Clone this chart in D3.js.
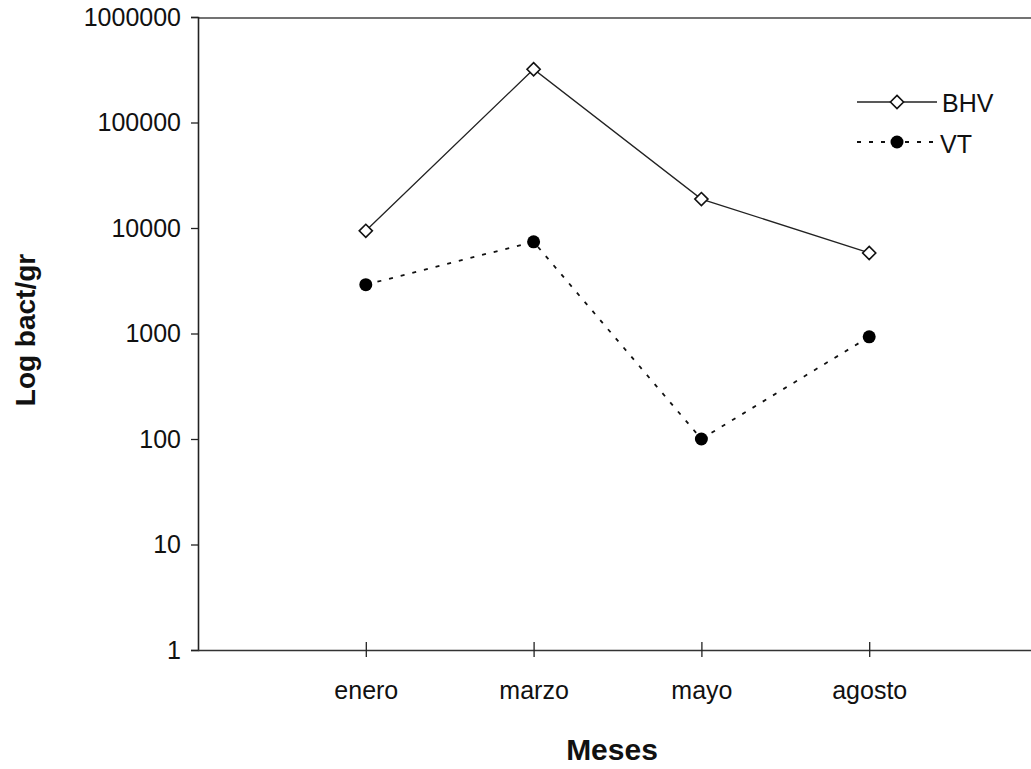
<!DOCTYPE html>
<html>
<head>
<meta charset="utf-8">
<script src="https://cdn.jsdelivr.net/npm/d3@7"></script>
<style>
  html, body { margin: 0; padding: 0; background: #fff; }
  svg text { font-family: "Liberation Sans", Arial, sans-serif; fill: #111; }
</style>
</head>
<body>
<svg id="chart" width="1031" height="769"></svg>
<script>
// Monthly bacterial counts (bact/gr), log scale
const months = ["enero", "marzo", "mayo", "agosto"];
const bhv = [9400, 320000, 18800, 5800];
const vt = [2900, 7400, 100, 930];
const yTicks = [1, 10, 100, 1000, 10000, 100000, 1000000];

const svg = d3.select("#chart");
const plotLeft = 198, plotRight = 1037, plotTop = 17, plotBottom = 650;

const x = d3.scalePoint().domain(months).range([plotLeft, plotRight]).padding(1);
const y = d3.scaleLog().domain([1, 1000000]).range([plotBottom, plotTop]);

// Plot frame (top edge)
svg.append("line").attr("x1", plotLeft).attr("x2", plotRight).attr("y1", plotTop + 1).attr("y2", plotTop + 1)
  .attr("stroke", "#444").attr("stroke-width", 1.5);

// Y axis
const yAxis = svg.append("g").attr("transform", `translate(${plotLeft},0)`)
  .call(d3.axisLeft(y).tickValues(yTicks).tickFormat(d3.format("d")).tickSize(7).tickPadding(10));
yAxis.select(".domain").attr("stroke", "#222").attr("stroke-width", 1.6);
yAxis.selectAll(".tick line").attr("stroke", "#222").attr("stroke-width", 1.3);
yAxis.selectAll(".tick text").attr("font-size", 25).attr("fill", "#111")
  .style("font-family", "'Liberation Sans', Arial, sans-serif");

// X axis with ticks crossing the baseline
const xAxis = svg.append("g").attr("transform", `translate(0,${plotBottom})`)
  .call(d3.axisBottom(x).tickSize(0).tickPadding(31));
xAxis.select(".domain").attr("d", `M${plotLeft},0.5H${plotRight}`).attr("stroke", "#333").attr("stroke-width", 1.5);
xAxis.selectAll(".tick").append("line").attr("y1", -8).attr("y2", 7).attr("stroke", "#222").attr("stroke-width", 1.3);
xAxis.selectAll(".tick text").attr("font-size", 25).attr("fill", "#111")
  .style("font-family", "'Liberation Sans', Arial, sans-serif");

// Series lines
const line = d3.line().x((d, i) => x(months[i])).y(d => y(d));
svg.append("path").datum(bhv).attr("d", line).attr("fill", "none")
  .attr("stroke", "#222").attr("stroke-width", 1.3);
svg.append("path").datum(vt).attr("d", line).attr("fill", "none")
  .attr("stroke", "#111").attr("stroke-width", 1.8).attr("stroke-dasharray", "4,8");

// Markers
const diamond = d3.symbol().type(d3.symbolDiamond2).size(110);
svg.selectAll(".bhv-pt").data(bhv).join("path").attr("class", "bhv-pt")
  .attr("transform", (d, i) => `translate(${x(months[i])},${y(d)})`)
  .attr("d", diamond).attr("fill", "#fff").attr("stroke", "#111").attr("stroke-width", 1.6);
svg.selectAll(".vt-pt").data(vt).join("circle").attr("class", "vt-pt")
  .attr("cx", (d, i) => x(months[i])).attr("cy", d => y(d)).attr("r", 6.5).attr("fill", "#000");

// Legend
const lg = svg.append("g");
lg.append("line").attr("x1", 857).attr("x2", 937).attr("y1", 102).attr("y2", 102)
  .attr("stroke", "#222").attr("stroke-width", 1.3);
lg.append("path").attr("d", diamond).attr("transform", "translate(897,102)")
  .attr("fill", "#fff").attr("stroke", "#111").attr("stroke-width", 1.6);
lg.append("text").attr("x", 942).attr("y", 112).attr("font-size", 25).text("BHV");
lg.append("line").attr("x1", 857).attr("x2", 937).attr("y1", 142).attr("y2", 142)
  .attr("stroke", "#111").attr("stroke-width", 1.8).attr("stroke-dasharray", "4,8");
lg.append("circle").attr("cx", 897).attr("cy", 142).attr("r", 6.5).attr("fill", "#000");
lg.append("text").attr("x", 940).attr("y", 153).attr("font-size", 25).text("VT");

// Axis titles
svg.append("text").attr("x", 612).attr("y", 760).attr("text-anchor", "middle")
  .attr("font-size", 30).attr("font-weight", "bold").text("Meses");
svg.append("text").attr("transform", "translate(35,330) rotate(-90)").attr("text-anchor", "middle")
  .attr("font-size", 28).attr("font-weight", "bold").text("Log bact/gr");
</script>
</body>
</html>
